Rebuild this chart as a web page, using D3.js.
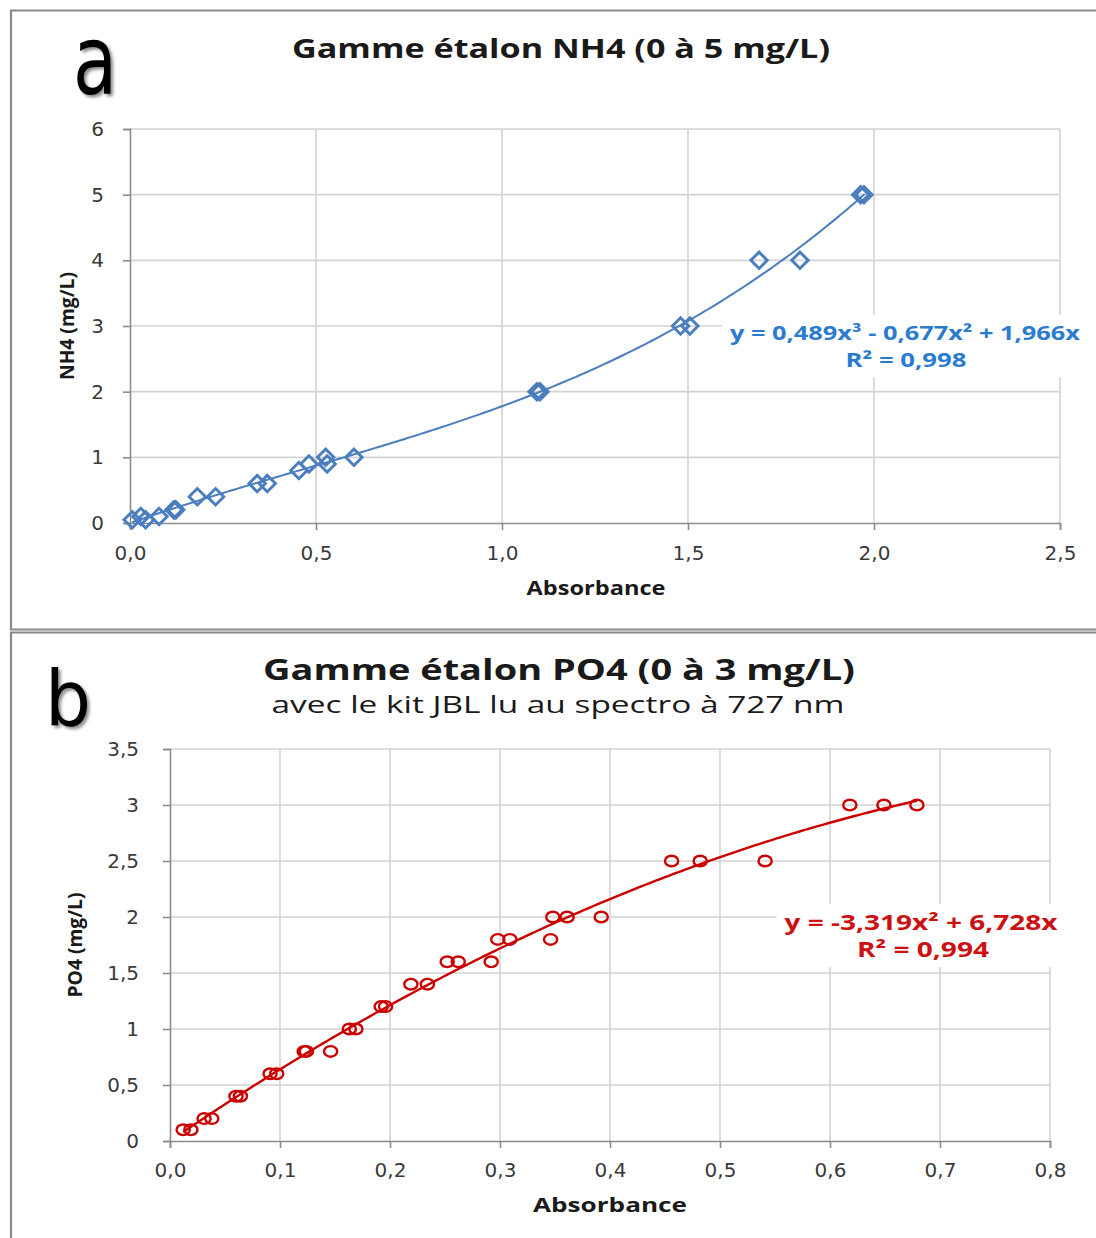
<!DOCTYPE html>
<html><head><meta charset="utf-8">
<script src="https://cdn.jsdelivr.net/npm/d3@7"></script>
<style>body{margin:0;background:#fff}svg{display:block}</style>
</head><body>
<svg id="c" width="1096" height="1238"></svg>
<script>
// ---------- Panel a : NH4 ----------
const nh4Abs  = [0.006, 0.029, 0.042, 0.078, 0.118, 0.123, 0.181, 0.230, 0.342, 0.369, 0.454, 0.481, 0.526, 0.530, 0.602, 1.094, 1.102, 1.480, 1.505, 1.691, 1.801, 1.964, 1.973];
const nh4Conc = [0.05, 0.1, 0.05, 0.1, 0.2, 0.2, 0.4, 0.4, 0.6, 0.6, 0.8, 0.9, 1.0, 0.9, 1.0, 2, 2, 3, 3, 4, 4, 5, 5];
const nh4Coef = [0.489, -0.677, 1.966];        // y = a x^3 + b x^2 + c x
const nh4XTicks = [0, 0.5, 1.0, 1.5, 2.0, 2.5];
const nh4YTicks = [0, 1, 2, 3, 4, 5, 6];
const nh4Eq = ["y = 0,489x³ - 0,677x² + 1,966x", "R² = 0,998"];

// ---------- Panel b : PO4 ----------
const po4Abs  = [0.012, 0.019, 0.031, 0.038, 0.060, 0.064, 0.091, 0.097, 0.122, 0.124, 0.146, 0.163, 0.169, 0.192, 0.196, 0.219, 0.234, 0.252, 0.262, 0.292, 0.298, 0.309, 0.346, 0.348, 0.361, 0.392, 0.456, 0.482, 0.541, 0.618, 0.649, 0.679];
const po4Conc = [0.1, 0.1, 0.2, 0.2, 0.4, 0.4, 0.6, 0.6, 0.8, 0.8, 0.8, 1.0, 1.0, 1.2, 1.2, 1.4, 1.4, 1.6, 1.6, 1.6, 1.8, 1.8, 1.8, 2.0, 2.0, 2.0, 2.5, 2.5, 2.5, 3, 3, 3];
const po4Coef = [-3.319, 6.728];               // y = a x^2 + b x
const po4XTicks = [0, 0.1, 0.2, 0.3, 0.4, 0.5, 0.6, 0.7, 0.8];
const po4YTicks = [0, 0.5, 1, 1.5, 2, 2.5, 3, 3.5];
const po4Eq = ["y = -3,319x² + 6,728x", "R² = 0,994"];

const svg = d3.select("#c");
const defs = svg.append("defs");
const f = defs.append("filter").attr("id","sh").attr("x","-20%").attr("y","-20%").attr("width","150%").attr("height","150%");
f.append("feDropShadow").attr("dx",2.5).attr("dy",2.5).attr("stdDeviation",1.6).attr("flood-color","#000").attr("flood-opacity",0.45);

const SANS = "'Open Sans', 'DejaVu Sans', sans-serif";
const TICKF = "'DejaVu Sans', sans-serif";

// panel frames
const frame = svg.append("g").attr("stroke","#8a8a8a").attr("stroke-width",2.2).attr("fill","none");
frame.append("path").attr("d","M1096,10.5 H11 V629.5 H1096");
frame.append("path").attr("d","M1096,632.5 H11 V1238");

const comma = (fmt) => (v) => d3.format(fmt)(v).replace(".", ",");

function panel(o){
  const g = svg.append("g");
  const x = d3.scaleLinear().domain(o.xDom).range([o.x0, o.x1]);
  const y = d3.scaleLinear().domain(o.yDom).range([o.y0, o.y1]);
  // grid
  g.append("g").selectAll("line").data(o.yTicks.slice(1)).join("line")
    .attr("x1",o.x0).attr("x2",o.x1).attr("y1",d=>y(d)).attr("y2",d=>y(d))
    .attr("stroke","#d3d3d3").attr("stroke-width",1.6);
  g.append("g").selectAll("line").data(o.xTicks.slice(1)).join("line")
    .attr("y1",o.y0).attr("y2",o.y1).attr("x1",d=>x(d)).attr("x2",d=>x(d))
    .attr("stroke","#d3d3d3").attr("stroke-width",1.6);
  // axes
  const xa = g.append("g").attr("transform",`translate(0,${o.y0})`)
    .call(d3.axisBottom(x).tickValues(o.xTicks).tickFormat(o.xFmt).tickSize(7).tickPadding(o.xPad));
  const ya = g.append("g").attr("transform",`translate(${o.x0},0)`)
    .call(d3.axisLeft(y).tickValues(o.yTicks).tickFormat(o.yFmt).tickSize(7).tickPadding(o.yPad));
  [xa,ya].forEach(a=>{
    a.select(".domain").attr("stroke","#8c8c8c").attr("stroke-width",1.6);
    a.selectAll(".tick line").attr("stroke","#8c8c8c").attr("stroke-width",1.6);
    a.selectAll(".tick text").attr("fill","#3a3a3a").attr("font-family",TICKF).attr("font-size",o.tickSize);
  });
  // trendline
  const xs = d3.range(0, 201).map(i => o.fitFrom + (o.fitTo - o.fitFrom) * i / 200);
  g.append("path").datum(xs)
    .attr("d", d3.line().x(d=>x(d)).y(d=>y(o.fit(d))))
    .attr("fill","none").attr("stroke",o.color).attr("stroke-width",o.lineW);
  // markers
  const pts = o.xs.map((v,i)=>({x:v, y:o.ys[i]}));
  if (o.marker === "diamond") {
    g.append("g").selectAll("path").data(pts).join("path")
      .attr("d", d3.symbol(d3.symbolSquare, 135))
      .attr("transform", d=>`translate(${x(d.x)},${y(d.y)}) rotate(45)`)
      .attr("fill","none").attr("stroke",o.color).attr("stroke-width",2.9);
  } else {
    g.append("g").selectAll("ellipse").data(pts).join("ellipse")
      .attr("cx", d=>x(d.x)).attr("cy", d=>y(d.y)).attr("rx",6.6).attr("ry",5.3)
      .attr("fill","none").attr("stroke",o.color).attr("stroke-width",2.4);
  }
  // equation label with white background
  const lab = g.append("g");
  const bg = lab.append("rect").attr("fill","#fff");
  lab.append("text").attr("x",o.eqX).attr("y",o.eqY).attr("text-anchor","middle")
    .attr("font-family",SANS).attr("font-weight",700).attr("font-size",o.eqSize).attr("fill",o.textColor)
    .attr("textLength",o.eqLen).attr("lengthAdjust","spacingAndGlyphs").text(o.eq[0]);
  lab.append("text").attr("x",o.eq2X).attr("y",o.eqY+27).attr("text-anchor","middle")
    .attr("font-family",SANS).attr("font-weight",700).attr("font-size",o.eqSize).attr("fill",o.textColor)
    .attr("textLength",o.eq2Len).attr("lengthAdjust","spacingAndGlyphs").text(o.eq[1]);
  const b = lab.node().getBBox();
  bg.attr("x",b.x-8).attr("y",b.y-4).attr("width",b.width+16).attr("height",b.height+8);
  // axis titles
  g.append("text").attr("x",o.xTitleX).attr("y",o.xTitleY).attr("text-anchor","middle")
    .attr("font-family",SANS).attr("font-weight",700).attr("font-size",19).attr("fill","#1a1a1a")
    .attr("textLength",o.xTitleLen).attr("lengthAdjust","spacingAndGlyphs").text("Absorbance");
  g.append("text").attr("transform",`translate(${o.yTitleX},${o.yTitleY}) rotate(-90)`).attr("text-anchor","middle")
    .attr("font-family",SANS).attr("font-weight",700).attr("font-size",19).attr("fill","#1a1a1a")
    .attr("textLength",o.yTitleLen).attr("lengthAdjust","spacingAndGlyphs").text(o.yTitle);
  return g;
}

panel({
  xDom:[0,2.5], yDom:[0,6], x0:130, x1:1060, y0:523, y1:129,
  xTicks:nh4XTicks, yTicks:nh4YTicks, xFmt:comma(".1f"), yFmt:d3.format("d"),
  xPad:16, yPad:19, tickSize:20,
  xs:nh4Abs, ys:nh4Conc, marker:"diamond", color:"#4a7ebf", textColor:"#2b7bcf", lineW:2,
  fit:v=>nh4Coef[0]*v*v*v + nh4Coef[1]*v*v + nh4Coef[2]*v, fitFrom:0.006, fitTo:1.975,
  eq:nh4Eq, eqX:905, eqY:340, eq2X:906, eqSize:20, eqLen:350, eq2Len:121,
  xTitleX:596, xTitleY:595, xTitleLen:139, yTitle:"NH4 (mg/L)", yTitleX:74, yTitleY:326, yTitleLen:108
});

panel({
  xDom:[0,0.8], yDom:[0,3.5], x0:170, x1:1050, y0:1141, y1:749,
  xTicks:po4XTicks, yTicks:po4YTicks, xFmt:comma(".1f"), yFmt:v=>String(v).replace(".",","),
  xPad:15, yPad:24, tickSize:20,
  xs:po4Abs, ys:po4Conc, marker:"circle", color:"#cc0000", textColor:"#cc1111", lineW:2.4,
  fit:v=>po4Coef[0]*v*v + po4Coef[1]*v, fitFrom:0.012, fitTo:0.679,
  eq:po4Eq, eqX:921, eqY:930, eq2X:923, eqSize:21, eqLen:273, eq2Len:132,
  xTitleX:610, xTitleY:1212, xTitleLen:154, yTitle:"PO4 (mg/L)", yTitleX:82, yTitleY:945, yTitleLen:105
});

// titles
svg.append("text").attr("x",561).attr("y",58).attr("text-anchor","middle")
  .attr("font-family",SANS).attr("font-weight",700).attr("font-size",27).attr("fill","#1a1a1a")
  .attr("textLength",538).attr("lengthAdjust","spacingAndGlyphs").text("Gamme étalon NH4 (0 à 5 mg/L)");
svg.append("text").attr("x",559).attr("y",680).attr("text-anchor","middle")
  .attr("font-family",SANS).attr("font-weight",700).attr("font-size",29).attr("fill","#1a1a1a")
  .attr("textLength",592).attr("lengthAdjust","spacingAndGlyphs").text("Gamme étalon PO4 (0 à 3 mg/L)");
svg.append("text").attr("x",558).attr("y",713).attr("text-anchor","middle")
  .attr("font-family",SANS).attr("font-weight",400).attr("font-size",24).attr("fill","#1a1a1a")
  .attr("textLength",573).attr("lengthAdjust","spacingAndGlyphs").text("avec le kit JBL lu au spectro à 727 nm");

// panel letters
svg.append("text").attr("x",95).attr("y",94).attr("text-anchor","middle")
  .attr("font-family","'DejaVu Sans', sans-serif").attr("font-weight",400).attr("font-size",96).attr("fill","#000")
  .attr("filter","url(#sh)").attr("textLength",44).attr("lengthAdjust","spacingAndGlyphs").text("a");
svg.append("text").attr("x",68).attr("y",725).attr("text-anchor","middle")
  .attr("font-family","'DejaVu Sans', sans-serif").attr("font-weight",400).attr("font-size",76).attr("fill","#000")
  .attr("filter","url(#sh)").attr("textLength",46).attr("lengthAdjust","spacingAndGlyphs").text("b");
</script>
</body></html>
